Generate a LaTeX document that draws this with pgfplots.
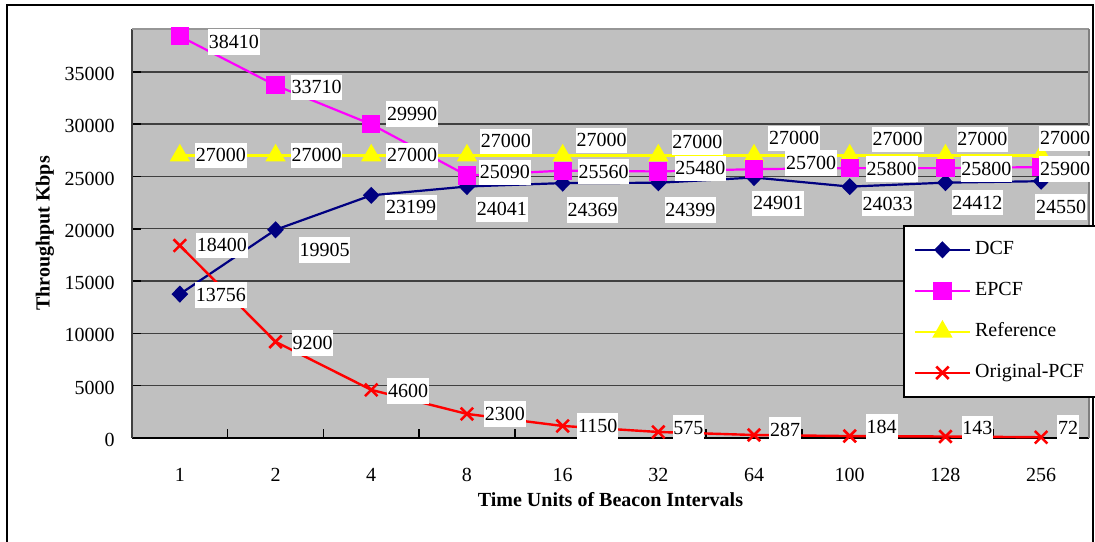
\documentclass[border=0pt]{standalone}
\usepackage{fontspec}
\setmainfont{Liberation Serif}
\usepackage{pgfplots}
\usepackage{pgfplotstable}
\pgfplotsset{compat=1.18}

\definecolor{dcfc}{RGB}{0,0,128}
\definecolor{epcfc}{RGB}{255,0,255}
\definecolor{refc}{RGB}{255,255,0}
\definecolor{opcfc}{RGB}{255,0,0}
\definecolor{plotbg}{RGB}{192,192,192}
\definecolor{gridc}{RGB}{64,64,64}
\definecolor{topc}{RGB}{150,150,150}
\definecolor{rightc}{RGB}{128,128,128}

% x = category index, y = value, dx/dy = label offset (px, dy positive = up)
\pgfplotstableread{
x y dx dy
0 13756 41 -1
1 19905 49 -20
2 23199 40 -12
3 24041 35 -23
4 24369 30 -27
5 24399 32 -27
6 24901 24 -26
7 24033 38 -17
8 24412 32 -20
9 24550 20 -26
}\dcf
\pgfplotstableread{
x y dx dy
0 38410 54 -6
1 33710 41 -2
2 29990 41 10
3 25090 38 3
4 25560 41 -1
5 25480 42 3
6 25700 57 6
7 25800 42 -1
8 25800 41 -1
9 25900 24 -2
}\epcf
\pgfplotstableread{
x y dx dy
0 27000 41 0
1 27000 41 0
2 27000 41 0
3 27000 39 14
4 27000 39 15
5 27000 39 13
6 27000 40 17
7 27000 48 16
8 27000 37 16
9 27000 24 17
}\refer
\pgfplotstableread{
x y dx dy
0 18400 42 0
1 9200 37 -1
2 4600 37 -1
3 2300 38 0
4 1150 35 0
5 575 30 4
6 287 31 5
7 184 32 9
8 143 32 8
9 72 27 9
}\opcf

\pgfplotsset{
  lbl/.style={
    draw=none, mark=none, forget plot,
    point meta=explicit symbolic,
    nodes near coords,
    visualization depends on={\thisrow{dx}\as\ddx},
    visualization depends on={\thisrow{dy}\as\ddy},
    every node near coord/.append style={
      anchor=center, xshift={\ddx*0.5bp}, yshift={\ddy*0.5bp},
      fill=white, text=black, inner xsep=0.4bp, inner ysep=0pt,
      text height=9.6bp, text depth=3.2bp,
      font=\fontsize{10bp}{12bp}\selectfont}
  },
  sdcf/.style={dcfc, line width=1.1bp, mark=diamond*, mark size=3.5bp, mark options={xscale=1.3, solid, fill=dcfc}},
  sepcf/.style={epcfc, line width=1.1bp, mark=square*, mark size=4bp, mark options={solid, fill=epcfc}},
  sref/.style={refc, line width=1.1bp, mark=triangle*, mark size=4.8bp, mark options={solid, fill=refc}},
  sopcf/.style={opcfc, line width=1.2bp, mark=x, mark size=4.4bp, mark options={solid, line width=1.3bp}},
}

\begin{document}
\begin{tikzpicture}[font=\fontsize{10bp}{12bp}\selectfont]
\useasboundingbox (0,0) rectangle (547.5bp,271bp);
\draw[line width=1bp, black] (3.5bp,-3bp) -- (3.5bp,268.5bp) -- (546.5bp,268.5bp) -- (546.5bp,-3bp);
\begin{axis}[
  at={(66bp,52bp)}, anchor=south west,
  scale only axis, width=478.5bp, height=204.5bp,
  xmin=-0.5, xmax=9.5, ymin=0, ymax=39100,
  clip=false,
  axis background/.style={fill=plotbg},
  axis x line*=bottom, axis y line*=left,
  x axis line style={black, line width=1bp},
  y axis line style={gridc, line width=1.3bp},
  xtick={0.5,1.5,...,9.5},
  xticklabels={{},{},{},{},{},{},{},{},{},{}},
  extra x ticks={0,...,9},
  extra x tick labels={1,2,4,8,16,32,64,100,128,256},
  extra x tick style={major tick length=0pt, grid=none,
    xticklabel style={anchor=center, yshift=-18.5bp}},
  ytick={0,5000,...,35000},
  tick style={black, line width=0.8bp},
  major tick length=4.5bp,
  tick align=inside,
  ymajorgrids, major grid style={gridc, line width=0.7bp},
  /pgf/number format/assume math mode=true,
  scaled y ticks=false,
  yticklabel style={/pgf/number format/1000 sep={}, anchor=east, xshift=-5.2bp, yshift=-1bp},
  ticklabel style={font=\fontsize{10bp}{12bp}\selectfont},
  xlabel={Time Units of Beacon Intervals},
  ylabel={Throughput Kbps},
  xlabel style={at={(axis description cs:0.5,-0.1516)}, anchor=center, font=\bfseries\fontsize{10bp}{12bp}\selectfont},
  ylabel style={at={(axis description cs:-0.0909,0.5)}, anchor=center, font=\bfseries\fontsize{10bp}{12bp}\selectfont},
  legend cell align=left,
  legend style={at={(0.8056,0.5208)}, anchor=north west, draw=black, line width=0.8bp, fill=white,
    font=\fontsize{10bp}{12bp}\selectfont, inner xsep=5bp, inner ysep=5.5bp, row sep=7.5bp,
    nodes={inner sep=2bp, text height=7bp, text depth=2bp}},
  legend image code/.code={\draw[mark repeat=2, mark phase=2, #1] plot coordinates {(0bp,0bp) (13.75bp,0bp) (27.5bp,0bp)};},
]
% plot frame (top and right)
\draw[line width=1bp, topc] (rel axis cs:0,1) -- (rel axis cs:1,1);
\draw[line width=1bp, rightc] (rel axis cs:1,0) -- (rel axis cs:1,1);

\addplot[sdcf, forget plot] table[x=x, y=y] {\dcf};
\addplot[sref, forget plot] table[x=x, y=y] {\refer};
\addplot[sepcf, forget plot] table[x=x, y=y] {\epcf};
\addplot[sopcf, forget plot] table[x=x, y=y] {\opcf};

\addplot[lbl] table[x=x, y=y, meta=y] {\dcf};
\addplot[lbl] table[x=x, y=y, meta=y] {\refer};
\addplot[lbl] table[x=x, y=y, meta=y] {\epcf};
\addplot[lbl] table[x=x, y=y, meta=y] {\opcf};

\addlegendimage{sdcf}\addlegendentry{DCF}
\addlegendimage{sepcf}\addlegendentry{EPCF}
\addlegendimage{sref}\addlegendentry{Reference}
\addlegendimage{sopcf}\addlegendentry{Original-PCF}
\end{axis}
\end{tikzpicture}
\end{document}
